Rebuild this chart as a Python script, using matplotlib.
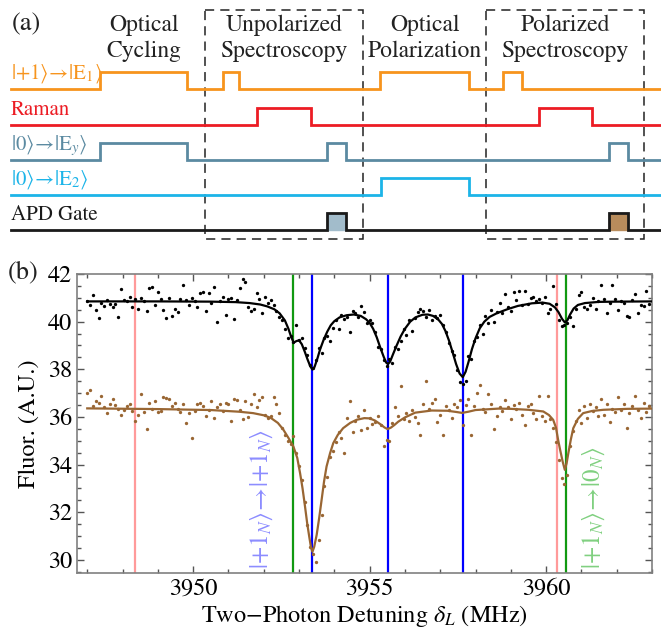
import numpy as np
import matplotlib
matplotlib.use("Agg")
import matplotlib.pyplot as plt
from matplotlib.patches import Rectangle
from matplotlib.ticker import MultipleLocator

plt.rcParams['font.family'] = ['STIXGeneral', 'DejaVu Serif']
plt.rcParams['mathtext.fontset'] = 'stix'

# ---------------- panel (a): pulse sequence (time in arbitrary units) ----------------
seq_start, seq_end = 11, 661
channel_labels = [r'$|{+}1\rangle\!\rightarrow\!|\mathrm{E}_1\rangle$', 'Raman',
                  r'$|0\rangle\!\rightarrow\!|\mathrm{E}_y\rangle$',
                  r'$|0\rangle\!\rightarrow\!|\mathrm{E}_2\rangle$', 'APD Gate']
channel_colors = ['#f7941d', '#ec1c24', '#5b8aa1', '#1cb4e8', '#1a1a1a']
pulses_e1 = [(100, 187), (223, 239), (380, 469), (503, 522)]
pulses_raman = [(257, 311), (539, 592)]
pulses_ey = [(100, 187), (327, 346), (609, 628)]
pulses_e2 = [(381, 469)]
pulses_apd = [(327, 346), (609, 628)]
apd_fill_colors = ['#a2bccb', '#b88c5c']
channel_pulses = [pulses_e1, pulses_raman, pulses_ey, pulses_e2, pulses_apd]
stage_names = ['Optical\nCycling', 'Unpolarized\nSpectroscopy', 'Optical\nPolarization',
               'Polarized\nSpectroscopy']
stage_centers = [144, 284, 425, 565]
spectroscopy_windows = [(205, 363), (486, 644)]

# ---------------- panel (b): spectra ----------------
det_start, det_step, n_pts = 3947.0, 0.08, 200
unpol_fluor = [
    40.85, 40.70, 41.12, 40.50, 40.15, 40.80, 40.65, 40.90, 40.75, 40.60,
    40.75, 40.20, 41.35, 40.90, 40.85, 41.05, 40.60, 40.95, 40.55, 41.00,
    40.85, 40.45, 41.40, 41.45, 40.70, 41.25, 40.95, 40.50, 40.15, 41.00,
    40.25, 40.55, 40.40, 40.95, 41.55, 40.90, 40.70, 41.00, 40.85, 40.60,
    41.20, 41.25, 40.45, 41.20, 40.80, 41.45, 40.00, 40.85, 41.05, 40.30,
    40.95, 41.00, 40.10, 40.90, 41.40, 41.80, 41.65, 40.60, 40.45, 40.55,
    41.20, 40.95, 40.35, 41.05, 40.80, 40.90, 40.70, 40.45, 40.20, 40.05,
    39.70, 39.30, 39.40, 39.15, 39.85, 39.25, 39.30, 38.90, 38.60, 38.20,
    38.05, 38.40, 38.90, 38.70, 39.30, 39.40, 39.20, 39.75, 40.05, 39.70,
    40.30, 40.10, 40.20, 39.55, 40.45, 40.35, 40.20, 40.65, 40.40, 39.95,
    40.05, 39.95, 39.55, 38.95, 38.85, 38.40, 38.15, 38.45, 38.25, 38.95,
    38.85, 39.20, 39.70, 39.45, 40.05, 39.60, 40.15, 40.40, 40.55, 40.45,
    40.20, 40.50, 40.05, 40.25, 40.15, 40.30, 39.85, 39.55, 39.10, 38.75,
    38.60, 37.95, 37.45, 37.40, 37.50, 38.55, 38.45, 39.20, 39.35, 39.85,
    39.50, 40.25, 39.95, 40.50, 40.00, 40.40, 40.80, 40.35, 41.15, 40.60,
    40.45, 41.25, 40.90, 41.30, 40.70, 41.30, 40.75, 41.00, 41.05, 40.85,
    40.95, 40.80, 41.05, 40.35, 40.55, 41.50, 40.75, 40.05, 39.80, 39.85,
    39.95, 40.20, 39.80, 40.55, 41.10, 41.25, 40.60, 40.55, 40.70, 41.00,
    40.55, 40.85, 41.55, 40.95, 40.35, 40.80, 41.55, 40.95, 40.50, 40.85,
    40.80, 40.25, 40.20, 40.90, 41.15, 40.35, 40.70, 40.65, 41.30, 40.75]
pol_fluor = [
    37.00, 37.15, 36.45, 36.65, 36.60, 36.90, 36.40, 36.15, 36.55, 36.75,
    36.50, 36.35, 36.10, 36.30, 36.45, 36.55, 36.25, 35.85, 36.10, 36.95,
    36.20, 35.50, 36.60, 36.35, 36.65, 36.20, 36.25, 36.85, 36.80, 36.75,
    36.45, 36.60, 36.35, 36.20, 36.55, 35.75, 36.15, 35.10, 36.25, 36.55,
    36.60, 36.45, 36.05, 36.30, 36.65, 35.95, 36.40, 36.55, 36.25, 36.60,
    36.55, 35.85, 36.75, 36.70, 36.30, 35.90, 36.65, 36.00, 36.55, 36.95,
    36.40, 36.70, 36.85, 36.10, 35.95, 36.05, 36.85, 36.55, 36.15, 35.55,
    35.25, 35.00, 34.85, 35.20, 34.50, 33.95, 33.35, 32.45, 31.45, 30.55,
    30.25, 29.90, 30.85, 31.90, 33.10, 33.50, 34.30, 34.55, 34.95, 35.35,
    35.10, 34.50, 35.95, 36.65, 35.35, 35.85, 36.05, 35.45, 36.30, 35.55,
    35.95, 35.70, 35.80, 36.05, 35.65, 34.80, 35.05, 35.00, 35.75, 36.40,
    36.05, 37.30, 35.90, 36.15, 35.85, 36.30, 36.00, 35.75, 35.25, 36.55,
    37.50, 36.35, 36.60, 36.75, 35.80, 36.10, 35.25, 36.45, 36.30, 35.95,
    36.55, 36.40, 36.70, 35.65, 36.50, 36.75, 35.25, 36.45, 37.00, 37.35,
    36.35, 36.20, 36.95, 36.55, 35.50, 36.05, 36.40, 36.25, 36.70, 36.40,
    35.90, 36.50, 36.35, 36.60, 36.10, 35.65, 36.45, 36.55, 36.15, 35.90,
    36.90, 36.05, 35.85, 36.90, 35.90, 35.55, 34.95, 34.20, 33.45, 33.20,
    33.55, 34.80, 35.40, 35.85, 36.30, 35.75, 36.45, 35.95, 36.55, 36.25,
    36.40, 36.05, 36.75, 36.10, 36.55, 35.80, 36.35, 36.20, 36.85, 36.30,
    36.55, 35.55, 36.15, 36.45, 36.90, 36.30, 35.95, 36.60, 36.20, 36.45]

unpol_fit_x = [3947.0, 3949.0, 3950.5, 3951.2, 3951.6, 3951.9, 3952.1, 3952.3, 3952.45, 3952.6,
               3952.7, 3952.78, 3952.85, 3952.92, 3953.0, 3953.08, 3953.16, 3953.24, 3953.32, 3953.38,
               3953.44, 3953.52, 3953.6, 3953.7, 3953.8, 3953.9, 3954.0, 3954.15, 3954.35, 3954.55,
               3954.75, 3954.9, 3955.0, 3955.1, 3955.2, 3955.3, 3955.4, 3955.47, 3955.52, 3955.58,
               3955.66, 3955.76, 3955.88, 3956.0, 3956.15, 3956.3, 3956.5, 3956.65, 3956.8, 3956.95,
               3957.05, 3957.15, 3957.25, 3957.35, 3957.45, 3957.55, 3957.64, 3957.72, 3957.8, 3957.9,
               3958.0, 3958.12, 3958.25, 3958.4, 3958.6, 3958.9, 3959.2, 3959.6, 3959.9, 3960.1,
               3960.25, 3960.35, 3960.45, 3960.53, 3960.6, 3960.68, 3960.78, 3960.9, 3961.1, 3961.5,
               3962.0, 3963.0]
unpol_fit_y = [40.85, 40.85, 40.84, 40.82, 40.78, 40.72, 40.64, 40.52, 40.35, 40.05,
               39.70, 39.35, 39.12, 39.18, 39.22, 39.05, 38.75, 38.42, 38.12, 37.99,
               38.10, 38.45, 38.85, 39.25, 39.58, 39.85, 40.02, 40.18, 40.27, 40.30,
               40.24, 40.10, 39.95, 39.70, 39.35, 38.92, 38.52, 38.28, 38.22, 38.32,
               38.62, 38.98, 39.38, 39.70, 40.00, 40.18, 40.29, 40.30, 40.24, 40.08,
               39.90, 39.60, 39.20, 38.72, 38.22, 37.82, 37.67, 37.90, 38.30, 38.85,
               39.30, 39.72, 40.00, 40.20, 40.35, 40.52, 40.66, 40.77, 40.80, 40.75,
               40.60, 40.40, 40.12, 39.97, 40.05, 40.30, 40.55, 40.70, 40.78, 40.83,
               40.84, 40.85]
pol_fit_x = [3947.0, 3949.0, 3950.5, 3951.3, 3951.7, 3952.0, 3952.2, 3952.4, 3952.55, 3952.7,
             3952.84, 3952.95, 3953.03, 3953.1, 3953.17, 3953.23, 3953.29, 3953.34, 3953.38, 3953.43,
             3953.5, 3953.57, 3953.64, 3953.71, 3953.78, 3953.88, 3953.97, 3954.1, 3954.25, 3954.45,
             3954.63, 3954.85, 3955.0, 3955.15, 3955.3, 3955.42, 3955.51, 3955.6, 3955.7, 3955.81,
             3956.0, 3956.29, 3956.76, 3957.2, 3957.45, 3957.62, 3957.8, 3958.0, 3958.65, 3959.0,
             3959.5, 3959.92, 3960.08, 3960.2, 3960.28, 3960.34, 3960.4, 3960.47, 3960.53, 3960.58,
             3960.63, 3960.7, 3960.77, 3960.9, 3961.05, 3961.3, 3961.62, 3962.3, 3963.0]
pol_fit_y = [36.36, 36.33, 36.29, 36.22, 36.16, 36.07, 35.96, 35.75, 35.48, 35.12,
             34.76, 34.28, 33.64, 33.00, 32.24, 31.55, 30.97, 30.52, 30.34, 30.55,
             31.05, 31.75, 32.52, 33.30, 33.92, 34.48, 34.90, 35.25, 35.53, 35.75,
             35.88, 35.95, 35.94, 35.85, 35.70, 35.56, 35.49, 35.55, 35.66, 35.80,
             35.98, 36.18, 36.27, 36.26, 36.21, 36.17, 36.22, 36.29, 36.35, 36.34,
             36.30, 36.23, 36.08, 35.88, 35.55, 35.04, 34.60, 34.12, 33.78, 34.05,
             34.48, 35.05, 35.53, 35.92, 36.16, 36.25, 36.30, 36.34, 36.35]

pink_lines = [3948.35, 3960.30]
green_lines = [3952.84, 3960.57]
blue_lines = [3953.37, 3955.52, 3957.65]
transition_labels = [r'$|{+}1_N\rangle\!\rightarrow\!|{+}1_N\rangle$',
                     r'$|{+}1_N\rangle\!\rightarrow\!|0_N\rangle$']
transition_label_x = [3951.95, 3961.35]
transition_label_colors = ['#8c8cff', '#80d080']

# ---------------- figure ----------------
W, H = 661, 633
fig = plt.figure(figsize=(W / 100, H / 100), dpi=100)

# panel (a)
axa = fig.add_axes([0, 1 - 245 / H, 1, 245 / H])
axa.set_xlim(0, W)
axa.set_ylim(245, 0)
axa.axis('off')
baselines = [89, 125, 160, 195, 230]
pulse_h = 17.5
for lab, col, pulses, base in zip(channel_labels, channel_colors, channel_pulses, baselines):
    xs, ys = [seq_start], [base]
    for (t0, t1) in pulses:
        xs += [t0, t0, t1, t1]
        ys += [base, base - pulse_h, base - pulse_h, base]
    xs.append(seq_end)
    ys.append(base)
    axa.plot(xs, ys, color=col, lw=2.0, solid_joinstyle='miter', zorder=3)
    axa.text(seq_start, base - 10, lab, color=col, fontsize=15, ha='left', va='baseline')
for (t0, t1), fc in zip(pulses_apd, apd_fill_colors):
    axa.fill_between([t0, t1], baselines[4], baselines[4] - pulse_h, color=fc, zorder=2)
for (t0, t1) in spectroscopy_windows:
    axa.add_patch(Rectangle((t0, 10), t1 - t0, 229, fill=False, ls=(0, (6, 4)),
                            lw=1.1, ec='#222222', zorder=1))
for name, cx in zip(stage_names, stage_centers):
    axa.text(cx, 38, name, fontsize=17, ha='center', va='center', color='#222222',
             linespacing=1.3)
axa.text(12, 24, '(a)', fontsize=19, ha='left', va='center', color='#222222')

# panel (b)
axb = fig.add_axes([77 / W, 60 / H, 575 / W, 299 / H])
det = det_start + det_step * np.arange(n_pts)
for x in pink_lines:
    axb.axvline(x, color='#ff9a9a', lw=1.6, zorder=1)
for x in green_lines:
    axb.axvline(x, color='#119911', lw=1.6, zorder=1)
for x in blue_lines:
    axb.axvline(x, color='#0000ff', lw=1.6, zorder=1)
axb.plot(det, unpol_fluor, 'o', color='black', ms=2.4, mew=0, zorder=3)
axb.plot(det, pol_fluor, 'o', color='#996633', ms=2.4, mew=0, zorder=3)
axb.plot(unpol_fit_x, unpol_fit_y, color='black', lw=1.6, zorder=4)
axb.plot(pol_fit_x, pol_fit_y, color='#996633', lw=1.6, zorder=4)
for lab, x, c in zip(transition_labels, transition_label_x, transition_label_colors):
    axb.text(x, 29.6, lab, rotation=90, color=c, fontsize=18, ha='center', va='bottom')

axb.set_xlim(3946.71, 3963.0)
axb.set_ylim(29.45, 42.0)
axb.xaxis.set_major_locator(MultipleLocator(5))
axb.xaxis.set_minor_locator(MultipleLocator(1))
axb.yaxis.set_major_locator(MultipleLocator(2))
axb.yaxis.set_minor_locator(MultipleLocator(0.5))
axb.tick_params(which='both', direction='in', top=True, right=True, color='#555555',
                labelsize=17.5, width=1.0)
axb.tick_params(which='major', length=5)
axb.tick_params(which='minor', length=3)
for sp in axb.spines.values():
    sp.set_color('#808080')
    sp.set_linewidth(1.2)
axb.set_xlabel(r'Two$-$Photon Detuning $\delta_L$ (MHz)', fontsize=17.5, labelpad=3)
axb.set_ylabel('Fluor. (A.U.)', fontsize=17.5, labelpad=6)
fig.text(8 / W, 1 - 272 / H, '(b)', fontsize=19, ha='left', va='center', color='#222222')

fig.savefig('out.png', dpi=100)
